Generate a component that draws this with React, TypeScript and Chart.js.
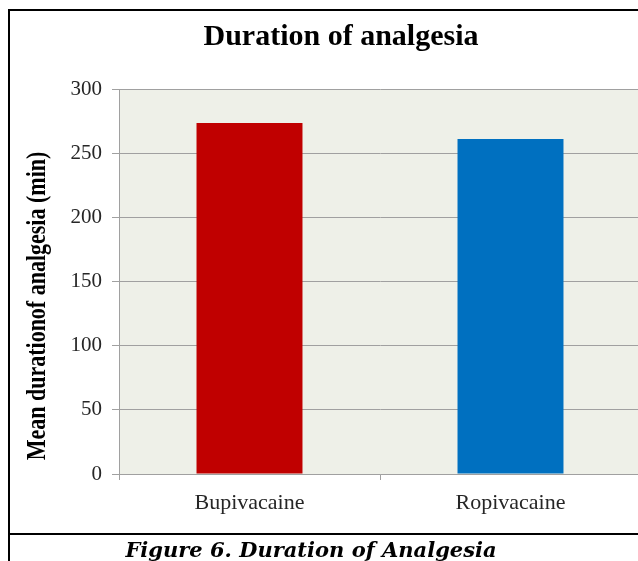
import React, { useEffect, useRef } from "react";
import { Chart, registerables } from "chart.js";

Chart.register(...registerables);

const chartTitle = "Duration of analgesia";
const yAxisTitle = "Mean durationof analgesia (min)";
const caption = "Figure 6. Duration of Analgesia";
const categories = ["Bupivacaine", "Ropivacaine"];
const meanDuration = [273.5, 261];
const barColors = ["#C00000", "#0070C0"];
const yMin = 0;
const yMax = 300;
const yStep = 50;

const plotBg = {
  id: "plotBg",
  beforeDraw(chart: any) {
    const { ctx, chartArea } = chart;
    ctx.save();
    ctx.fillStyle = "#EEF0E8";
    ctx.fillRect(chartArea.left, chartArea.top, chartArea.right - chartArea.left, chartArea.bottom - chartArea.top);
    ctx.restore();
  },
};

// Y-axis title, placed like the reference (slightly below the axis centre)
const yTitle = {
  id: "yTitle",
  afterDraw(chart: any) {
    const { ctx } = chart;
    ctx.save();
    ctx.translate(38, 306);
    ctx.rotate(-Math.PI / 2);
    ctx.scale(1, 1.2);
    ctx.font = "bold 22px 'Liberation Serif', serif";
    ctx.fillStyle = "#000000";
    ctx.textAlign = "center";
    ctx.textBaseline = "middle";
    ctx.fillText(yAxisTitle, 0, 0);
    ctx.restore();
  },
};

export default function App() {
  const ref = useRef<HTMLCanvasElement | null>(null);

  useEffect(() => {
    if (!ref.current) return;
    const chart = new Chart(ref.current, {
      type: "bar",
      data: {
        labels: categories,
        datasets: [
          {
            data: meanDuration,
            backgroundColor: barColors,
            borderWidth: 0,
            barPercentage: 0.406,
            categoryPercentage: 1,
          },
        ],
      },
      options: {
        animation: false,
        responsive: false,
        layout: { padding: { left: 41, right: 19, top: 10, bottom: 0 } },
        plugins: {
          legend: { display: false },
          tooltip: { enabled: false },
          title: {
            display: true,
            text: chartTitle,
            color: "#000000",
            font: { family: "'Liberation Serif', serif", size: 30, weight: "bold" },
            padding: { top: 9, bottom: 34 },
          },
        },
        scales: {
          x: {
            type: "category",
            afterFit(scale: any) {
              scale.height = 59;
            },
            grid: {
              display: true,
              drawOnChartArea: false,
              drawTicks: true,
              tickLength: 6,
              color: "#A0A0A0",
              offset: true,
            },
            border: { display: true, color: "#A0A0A0" },
            ticks: {
              color: "#262626",
              font: { family: "'Liberation Serif', serif", size: 22 },
              padding: 10,
            },
          },
          y: {
            min: yMin,
            max: yMax,
            afterFit(scale: any) {
              scale.width = 78;
            },
            grid: {
              color: "#A0A0A0",
              lineWidth: 1,
              tickLength: 7,
              drawTicks: true,
            },
            border: { display: true, color: "#A0A0A0" },
            ticks: {
              stepSize: yStep,
              color: "#262626",
              font: { family: "'Liberation Serif', serif", size: 21 },
              padding: 10,
            },
            title: { display: false },
          },
        },
      },
      plugins: [plotBg, yTitle],
    });
    return () => chart.destroy();
  }, []);

  return (
    <div
      style={{
        position: "absolute",
        left: 0,
        top: 0,
        width: 638,
        height: 561,
        overflow: "hidden",
        background: "#ffffff",
      }}
    >
      <canvas
        ref={ref}
        width={660}
        height={533}
        style={{ position: "absolute", left: 0, top: 0, width: 660, height: 533 }}
      />
      <div style={{ position: "absolute", left: 8, top: 9, width: 640, height: 2, background: "#000" }} />
      <div style={{ position: "absolute", left: 8, top: 9, width: 2, height: 560, background: "#000" }} />
      <div style={{ position: "absolute", left: 8, top: 533, width: 640, height: 2, background: "#000" }} />
      <div
        style={{
          position: "absolute",
          left: 10,
          top: 538,
          width: 602,
          textAlign: "center",
          fontFamily: "'DejaVu Serif', serif",
          fontWeight: "bold",
          fontStyle: "italic",
          fontSize: 21,
          lineHeight: "24px",
          color: "#000",
          whiteSpace: "nowrap",
        }}
      >
        {caption}
      </div>
    </div>
  );
}
